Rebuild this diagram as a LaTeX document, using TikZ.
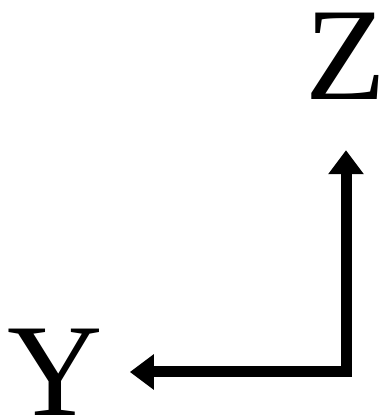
\documentclass[tikz,border=0pt]{standalone}
\usepackage{fontspec}
\setmainfont{Liberation Serif}
\usetikzlibrary{arrows.meta}
\begin{document}
\begin{tikzpicture}[x=1pt,y=1pt,
  letter/.style={font=\fontsize{132}{132}\selectfont, inner sep=0pt, text height=88pt, text depth=0pt, anchor=base},
  conn/.style={line width=11pt, {Triangle[length=24pt,width=34pt]}-{Triangle[length=24pt,width=34pt]}}]
\useasboundingbox (0,0) rectangle (390,419);
\node[letter] (Z) at (346,319) {Z};
\node[letter] (Y) at (55,3) {Y};
\draw[conn] ([yshift=-50pt]Z.south) |- ([xshift=27pt]Y.east);
\end{tikzpicture}
\end{document}
